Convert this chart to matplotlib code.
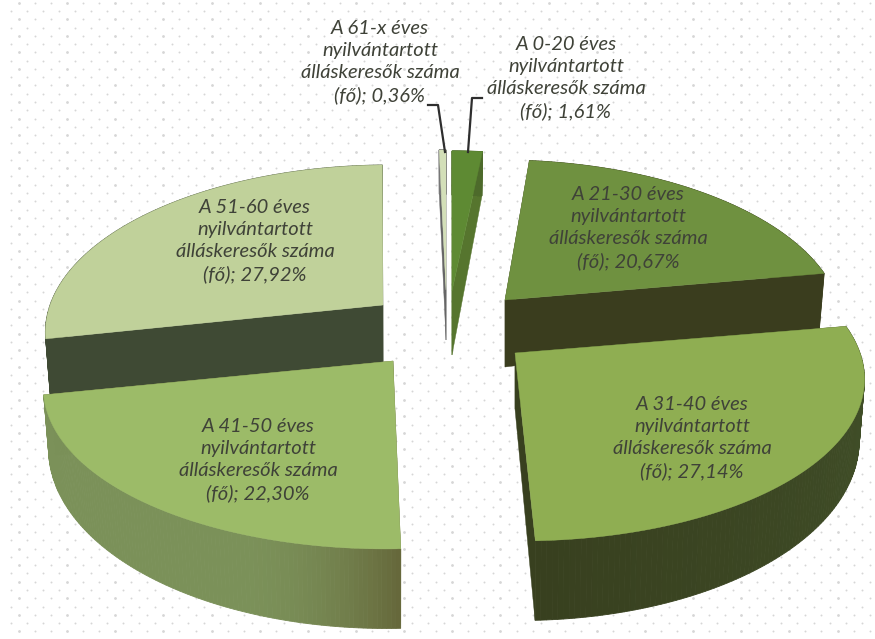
import numpy as np
import matplotlib
matplotlib.use("Agg")
import matplotlib.pyplot as plt
from matplotlib.colors import to_rgb

age_groups = ["0-20", "21-30", "31-40", "41-50", "51-60", "61-x"]
shares = [1.61, 20.67, 27.14, 22.30, 27.92, 0.36]
share_text = ["1,61%", "20,67%", "27,14%", "22,30%", "27,92%", "0,36%"]

top_colors = ["#5e8a33", "#6f9140", "#8fae52", "#9cbb68", "#c0d19a", "#d3dfb8"]
wall_start = ["#4d6a2b", "#3a3d1e", "#42522a", "#7b9159", "#3f4a34", "#777777"]
wall_end = ["#4d6a2b", "#3a3d1e", "#38401f", "#66683b", "#3f4a34", "#777777"]
face_colors = ["#56752e", "#3a3d1e", "#38401f", "#66683b", "#3f4a34", "#666666"]
tips = [(452, 291), (505, 300), (515, 353), (393, 361), (383, 305), (446, 290)]
x_scale = [1.0, 0.965, 1.0, 1.0, 0.965, 1.0]
shear = [0.0, 0.036, 0.03, -0.037, -0.042, 0.0]
tip_depth = [64, 67, 56, 56, 58, 50]
label_pos = [(566, 78), (628, 228), (692, 438), (258, 460), (255, 241), (380, 62)]
draw_order = [5, 0, 4, 1, 3, 2]

W, H = 875, 639
A, B, P, D = 345.0, 160.5, 0.146, 58.0

fig = plt.figure(figsize=(W / 100, H / 100), dpi=100, facecolor="white")
ax = fig.add_axes([0, 0, 1, 1])
ax.set_xlim(0, W)
ax.set_ylim(H, 0)
ax.axis("off")

# dotted backdrop
row_y = np.arange(2.8, H, 8.27)
for i, y in enumerate(row_y):
    xs = np.arange(19 if i % 2 == 0 else 11, W, 16.05)
    big = (i % 2 == 0) & (np.arange(len(xs)) % 3 == 0)
    ax.scatter(xs[~big], np.full((~big).sum(), y), s=2.0, c="#d6d6d6", linewidths=0, zorder=0)
    ax.scatter(xs[big], np.full(big.sum(), y), s=4.0, c="#d6d6d6", linewidths=0, zorder=0)


def project(theta, idx):
    u, v = np.sin(theta), np.cos(theta)
    w = 1 + P * v
    dy = -B * v / w
    return tips[idx][0] + x_scale[idx] * A * u / w + shear[idx] * dy, tips[idx][1] + dy, w


def lower(x, y, w, tip):
    return tip[0] + (x - tip[0]) * 0.985, y + D / w ** 2


edges = np.radians(np.concatenate([[0], np.cumsum(shares)]) * 3.6 * 100 / sum(shares))

for idx in draw_order:
    z = 2 + draw_order.index(idx)
    tip = tips[idx]
    th = np.linspace(edges[idx], edges[idx + 1], 120)
    x, y, w = project(th, idx)
    bx, by = lower(x, y, w, tip)
    tip_low = (tip[0], tip[1] + tip_depth[idx])
    # radial faces
    for k in (0, -1):
        ax.fill([tip[0], x[k], bx[k], tip_low[0]], [tip[1], y[k], by[k], tip_low[1]],
                color=face_colors[idx], lw=0.3, zorder=z)
    # curved outer wall, shaded along its length
    c0, c1 = np.array(to_rgb(wall_start[idx])), np.array(to_rgb(wall_end[idx]))
    for j in range(len(th) - 1):
        t = j / (len(th) - 2)
        if idx == 3:
            t = np.clip((0.3 - t) / 0.3, 0, 1) ** 2
        col = c0 + (c1 - c0) * t
        ax.fill([x[j], x[j + 1], bx[j + 1], bx[j]], [y[j], y[j + 1], by[j + 1], by[j]],
                color=col, lw=0.6, zorder=z)
    # top surface
    ax.fill(np.r_[tip[0], x], np.r_[tip[1], y], color=top_colors[idx], lw=0.3, zorder=z)

for group, pct, (lx, ly) in zip(age_groups, share_text, label_pos):
    ax.text(lx, ly, f"A {group} éves\nnyilvántartott\nálláskeresők száma\n(fő); {pct}",
            ha="center", va="center", fontsize=14.5, style="italic", family="Lato",
            color="#3f4238", linespacing=1.36, zorder=20)

ax.plot([428, 438, 445], [105, 105, 152], color="#2e2e2e", lw=1.6, zorder=15)
ax.plot([482, 472, 468], [98, 98, 152], color="#2e2e2e", lw=1.6, zorder=15)

fig.savefig("out.png", dpi=100, facecolor="white")
